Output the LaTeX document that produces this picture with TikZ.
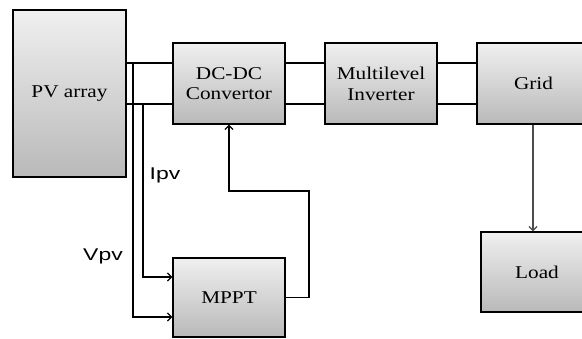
\documentclass[tikz,border=0pt]{standalone}
\usepackage{fontspec}
\setmainfont[FakeStretch=1.18]{Liberation Serif}
\newfontfamily\lblfont[FakeStretch=1.35]{Liberation Sans}
\usetikzlibrary{arrows.meta,calc}
\begin{document}
\begin{tikzpicture}[x=1pt,y=-1pt,
  blk/.style={draw=black, line width=1.4pt, top color=gray!12, bottom color=gray!55,
    minimum width=112pt, inner sep=0pt, align=center,
    font=\fontsize{18}{20.7}\selectfont},
  wire/.style={draw=black, line width=1.2pt},
  arr/.style={wire, -{Straight Barb[length=4pt,width=8pt,line width=1.2pt]}},
  lbl/.style={font=\lblfont\fontsize{17}{20}\selectfont, inner sep=0pt}]
\clip (0,0) rectangle (582,338);
\useasboundingbox (0,0) rectangle (582,338);
\node[blk, minimum width=113pt, minimum height=167pt] (pv) at (69.5,93.5) {PV array};
\node[blk, minimum height=81pt] (dc) at (229,83.5) {DC-DC\\Convertor};
\node[blk, minimum height=81pt] (inv) at (381,83.5) {Multilevel\\Inverter};
\node[blk, minimum height=81pt, minimum width=113pt] (grid) at (533.5,83.5) {Grid};
\node[blk, minimum height=80pt] (load) at (537,272) {Load};
\node[blk, minimum height=79pt] (mppt) at (229,297.5) {MPPT};
\coordinate (ytop) at (0,63);
\coordinate (ybot) at (0,104);
\coordinate (xv) at (133,0);
\coordinate (xi) at (143,0);
\coordinate (yv) at (0,317);
\coordinate (yi) at (0,277);
\coordinate (yfb) at (0,191);
\coordinate (xfb) at (309,0);
% PV to DC-DC
\draw[wire] (pv.east |- ytop) -- (dc.west |- ytop);
\draw[wire] (pv.east |- ybot) -- (dc.west |- ybot);
% DC-DC to inverter
\draw[wire] (dc.east |- ytop) -- (inv.west |- ytop);
\draw[wire] (dc.east |- ybot) -- (inv.west |- ybot);
% inverter to grid
\draw[wire] (inv.east |- ytop) -- (grid.west |- ytop);
\draw[wire] (inv.east |- ybot) -- (grid.west |- ybot);
% sensing
\draw[arr] (xv |- ytop) -- (xv |- yv) -- (mppt.west |- yv);
\draw[arr] (xi |- ybot) -- (xi |- yi) -- (mppt.west |- yi);
% feedback
\draw[arr] (mppt.east) -- (xfb |- mppt.east) -- (xfb |- yfb) -- (dc.south |- yfb) -- (dc.south);
% grid to load
\draw[arr, draw=black!70] (grid.south -| 533,0) -- (load.north -| 533,0);
\node[lbl] (ipv) at (165,175) {Ipv};
\node[lbl] (vpv) at (103,256) {Vpv};
\end{tikzpicture}
\end{document}
